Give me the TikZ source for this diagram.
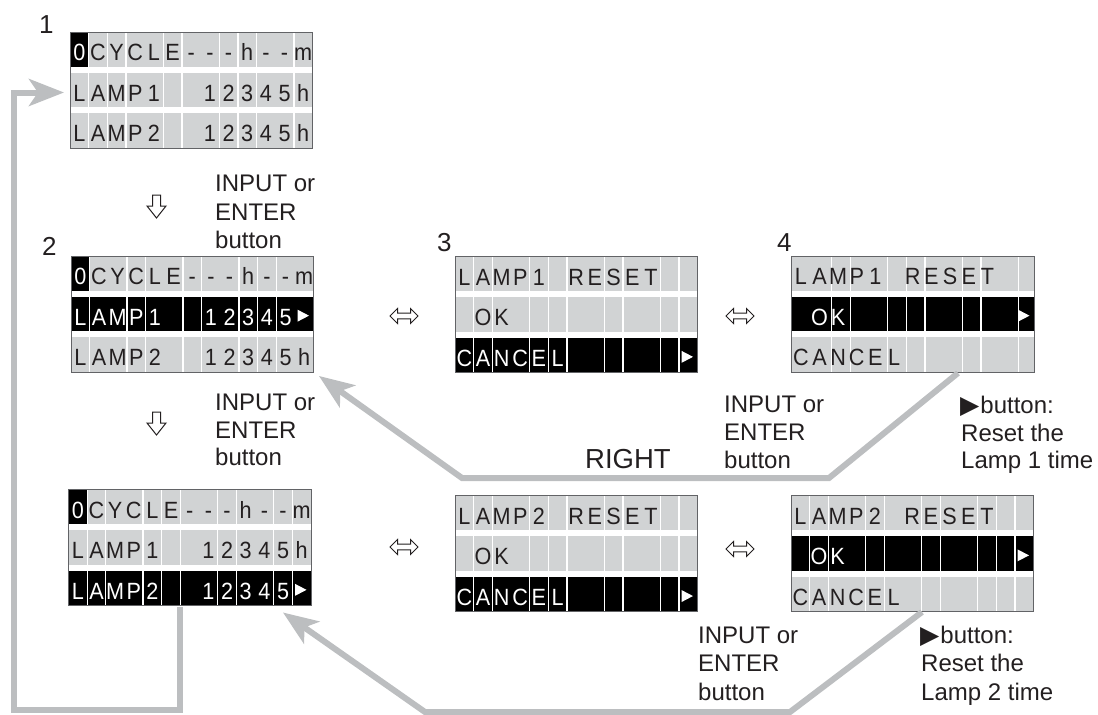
\documentclass[tikz,border=0pt]{standalone}
\usepackage{fontspec}
\setmainfont{Liberation Sans}
\newfontfamily\lcdfont[FakeStretch=0.92]{Liberation Sans}
\newfontfamily\symfont{DejaVu Sans}
\usetikzlibrary{arrows.meta}
\definecolor{lcdgray}{HTML}{D1D3D4}
\definecolor{arrgray}{HTML}{BCBEC0}
\definecolor{ink}{HTML}{231F20}
\definecolor{framec}{HTML}{626366}
% LCD helpers (used inside a shifted scope, panel origin = top-left corner)
\newcommand\rowfill[2]{\fill[#1] (0,{#2*40.67}) rectangle ++(242.5,34.67);}
\newcommand\zerocell{\fill[black] (0,0) rectangle (18.654,34.67);}
\newcommand\lcdseps[1]{\foreach \k in {#1}{\draw[lcdsep] ({\k*18.654},0) -- ({\k*18.654},116);}}
\newcommand\rowtext[4]{\foreach \ch [count=\i from 0] in {#4}{\node[lcdchar,text=#3] (#1-\i) at ({(\i+0.5)*18.654},{#2*40.67+28.5}) {\ch};}}
\newcommand\rowtri[1]{\fill[white] (226.5,{#1*40.67+13}) -- (238,{#1*40.67+19}) -- (226.5,{#1*40.67+25}) -- cycle;}
\newcommand\frameit{\draw[panelframe] (0,0) rectangle (242.5,116);}
\newcommand\blacktri{{\symfont\fontsize{25}{25}\selectfont ▶}\kern1pt}
\newcommand\zerochar{\textcolor{white}{0}}
\begin{document}
\begin{tikzpicture}[x=1pt,y=-1pt,
  lcdchar/.style={font=\lcdfont\fontsize{23.5}{24}\selectfont, anchor=base, inner sep=0pt},
  lbl/.style={font=\fontsize{24}{28}\selectfont, text=ink, anchor=base west, inner sep=0pt},
  numlbl/.style={font=\fontsize{26}{30}\selectfont, text=ink, anchor=base west, inner sep=0pt},
  rightlbl/.style={font=\fontsize{27.5}{30}\selectfont, text=ink, anchor=base west, inner sep=0pt},
  grayarrow/.style={draw=arrgray, line width=6pt, line join=miter,
    -{Stealth[length=35pt,width=27pt,inset=9pt,fill=arrgray]}},
  hollow/.style={draw=ink, fill=white, line width=1pt, line join=miter},
  panelframe/.style={draw=framec, line width=1pt},
  lcdsep/.style={draw=white, line width=1.3pt}
]
\useasboundingbox (0,0) rectangle (1098,715);

% ---------------- Panel 1 ----------------
\begin{scope}[shift={(70,32)}]
  \rowfill{lcdgray}{0}\rowfill{lcdgray}{1}\rowfill{lcdgray}{2}
  \zerocell
  \lcdseps{1,2,3,5,6,8,9,10,12}
  \rowtext{p1a}{0}{ink}{\zerochar,C,Y,C,L,E,-,-,-,h,-,-,m}
  \rowtext{p1b}{1}{ink}{L,A,M,P,1,{},{},1,2,3,4,5,h}
  \rowtext{p1c}{2}{ink}{L,A,M,P,2,{},{},1,2,3,4,5,h}
  \frameit
\end{scope}

% ---------------- Panel 2 ----------------
\begin{scope}[shift={(71,256)}]
  \rowfill{lcdgray}{0}\rowfill{black}{1}\rowfill{lcdgray}{2}
  \zerocell
  \lcdseps{1,3,4,6,7,9,10,11}
  \rowtext{p2a}{0}{ink}{\zerochar,C,Y,C,L,E,-,-,-,h,-,-,m}
  \rowtext{p2b}{1}{white}{L,A,M,P,1,{},{},1,2,3,4,5,{}}
  \rowtri{1}
  \rowtext{p2c}{2}{ink}{L,A,M,P,2,{},{},1,2,3,4,5,h}
  \frameit
\end{scope}

% ---------------- Panel 3 ----------------
\begin{scope}[shift={(455,256.5)}]
  \rowfill{lcdgray}{0}\rowfill{lcdgray}{1}\rowfill{black}{2}
  \lcdseps{1,2,4,5,6,8,9,11,12}
  \rowtext{p3a}{0}{ink}{L,A,M,P,1,{},R,E,S,E,T}
  \rowtext{p3b}{1}{ink}{{},O,K}
  \rowtext{p3c}{2}{white}{C,A,N,C,E,L}
  \rowtri{2}
  \frameit
\end{scope}

% ---------------- Panel 4 ----------------
\begin{scope}[shift={(791.5,256)}]
  \rowfill{lcdgray}{0}\rowfill{black}{1}\rowfill{lcdgray}{2}
  \lcdseps{2.16,3.16,5.16,6.16,7.16,9.16,10.16,12.16}
  \rowtext{p4a}{0}{ink}{L,A,M,P,1,{},R,E,S,E,T}
  \rowtext{p4b}{1}{white}{{},O,K}
  \rowtri{1}
  \rowtext{p4c}{2}{ink}{C,A,N,C,E,L}
  \frameit
\end{scope}

% ---------------- Panel 5 ----------------
\begin{scope}[shift={(68.5,489.5)}]
  \rowfill{lcdgray}{0}\rowfill{lcdgray}{1}\rowfill{black}{2}
  \zerocell
  \lcdseps{1,2,4,5,6,8,9,11,12}
  \rowtext{p5a}{0}{ink}{\zerochar,C,Y,C,L,E,-,-,-,h,-,-,m}
  \rowtext{p5b}{1}{ink}{L,A,M,P,1,{},{},1,2,3,4,5,h}
  \rowtext{p5c}{2}{white}{L,A,M,P,2,{},{},1,2,3,4,5,{}}
  \rowtri{2}
  \frameit
\end{scope}

% ---------------- Panel 6 ----------------
\begin{scope}[shift={(455,495.7)}]
  \rowfill{lcdgray}{0}\rowfill{lcdgray}{1}\rowfill{black}{2}
  \lcdseps{1,2,4,5,6,8,9,11,12}
  \rowtext{p6a}{0}{ink}{L,A,M,P,2,{},R,E,S,E,T}
  \rowtext{p6b}{1}{ink}{{},O,K}
  \rowtext{p6c}{2}{white}{C,A,N,C,E,L}
  \rowtri{2}
  \frameit
\end{scope}

% ---------------- Panel 7 ----------------
\begin{scope}[shift={(791,495.7)}]
  \rowfill{lcdgray}{0}\rowfill{black}{1}\rowfill{lcdgray}{2}
  \lcdseps{1,2,4,5,7,8,10,11,12}
  \rowtext{p7a}{0}{ink}{L,A,M,P,2,{},R,E,S,E,T}
  \rowtext{p7b}{1}{white}{{},O,K}
  \rowtri{1}
  \rowtext{p7c}{2}{ink}{C,A,N,C,E,L}
  \frameit
\end{scope}

% ---------------- step numbers ----------------
\node[numlbl] (n1) at (39,33.3) {1};
\node[numlbl] (n2) at (42,255) {2};
\node[numlbl] (n3) at (437,251.7) {3};
\node[numlbl] (n4) at (777,251.7) {4};

% ---------------- labels ----------------
\node[lbl] (t1a) at (215,191.5) {INPUT or};
\node[lbl] (t1b) at (215,220) {ENTER};
\node[lbl] (t1c) at (215,248.5) {button};

\node[lbl] (t2a) at (215,410) {INPUT or};
\node[lbl] (t2b) at (215,438) {ENTER};
\node[lbl] (t2c) at (215,465.5) {button};

\node[lbl] (t3a) at (724,412) {INPUT or};
\node[lbl] (t3b) at (724,440) {ENTER};
\node[lbl] (t3c) at (724,468) {button};

\node[lbl] (t4a) at (698,643) {INPUT or};
\node[lbl] (t4b) at (698,671.5) {ENTER};
\node[lbl] (t4c) at (698,700) {button};

\node[lbl] (r1a) at (960,413) {\blacktri button:};
\node[lbl] (r1b) at (961,441) {Reset the};
\node[lbl] (r1c) at (961,468.5) {Lamp 1 time};

\node[lbl] (r2a) at (920,643) {\blacktri button:};
\node[lbl] (r2b) at (921,671.5) {Reset the};
\node[lbl] (r2c) at (921,700) {Lamp 2 time};

\node[rightlbl] (right) at (585,468) {RIGHT};

% ---------------- hollow symbols ----------------
\foreach \px/\py in {404/316, 740/316, 404/547, 740/549}{
  \draw[hollow, shift={(\px,\py)}] (-14,0) -- (-6.5,-7.5) -- (-6.5,-2.8) -- (6.5,-2.8) -- (6.5,-7.5)
    -- (14,0) -- (6.5,7.5) -- (6.5,2.8) -- (-6.5,2.8) -- (-6.5,7.5) -- cycle;
}
\foreach \py in {195,412}{
  \draw[hollow, shift={(156.5,\py)}] (-4,0) -- (4,0) -- (4,11) -- (9.5,11) -- (0,23) -- (-9.5,11) -- (-4,11) -- cycle;
}

% ---------------- gray connectors ----------------
\coordinate (p5out) at (180,606.5);
\coordinate (p1in) at (64,92.5);
\coordinate (p4out) at (958,373);
\coordinate (p2in) at (319,376);
\coordinate (p7out) at (922,612);
\coordinate (p5in) at (283,612.5);

\draw[grayarrow] (p5out) -- (180,709.5) -- (13.5,709.5) -- (13.5,92.5) -- (p1in);
\draw[grayarrow] (p4out) -- (829,478) -- (462,478) -- (p2in);
\draw[grayarrow] (p7out) -- (790,712) -- (425,712) -- (p5in);
\end{tikzpicture}
\end{document}
